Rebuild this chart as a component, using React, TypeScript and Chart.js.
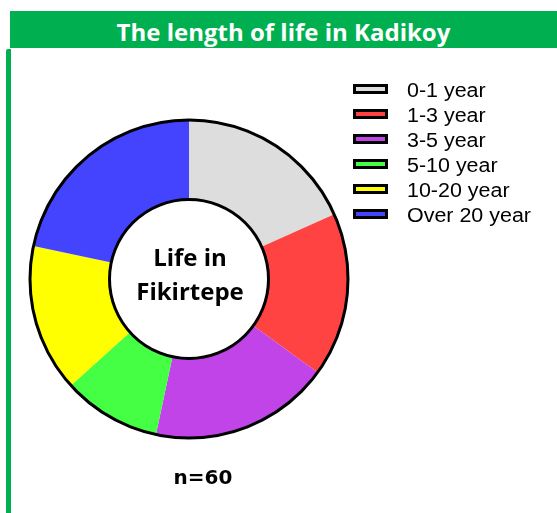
import React, { useEffect, useRef } from "react";
import { Chart, registerables } from "chart.js";

Chart.register(...registerables);

const TITLE = "The length of life in Kadikoy";
const CENTER_LINES = ["Life in", "Fikirtepe"];
const N_LABEL = "n=60";

const categories = ["0-1 year", "1-3 year", "3-5 year", "5-10 year", "10-20 year", "Over 20 year"];
const counts = [11, 10, 11, 6, 9, 13];
const colors = ["#DDDDDD", "#FF4343", "#C044E8", "#44FF44", "#FFFF00", "#4444FF"];

const W = 557;
const H = 513;

const ringPlugin = {
  id: "ringAndText",
  afterDatasetsDraw(chart: any) {
    const ctx = chart.ctx as CanvasRenderingContext2D;
    const meta = chart.getDatasetMeta(0);
    const arc = meta.data[0];
    if (!arc) return;
    const { x, y, innerRadius, outerRadius } = arc.getProps(["x", "y", "innerRadius", "outerRadius"], true);
    ctx.save();
    ctx.strokeStyle = "#000000";
    ctx.lineWidth = 3;
    ctx.beginPath();
    ctx.arc(x, y, outerRadius, 0, Math.PI * 2);
    ctx.stroke();
    ctx.fillStyle = "#FFFFFF";
    ctx.beginPath();
    ctx.arc(x, y, innerRadius, 0, Math.PI * 2);
    ctx.fill();
    ctx.stroke();

    // center text
    ctx.fillStyle = "#000000";
    ctx.textAlign = "center";
    ctx.textBaseline = "alphabetic";
    ctx.font = "bold 24px 'Open Sans'";
    ctx.fillText(CENTER_LINES[0], x + 1, y - 13);
    ctx.fillText(CENTER_LINES[1], x + 1, y + 21);

    // n label
    ctx.font = "bold 20px 'DejaVu Sans'";
    ctx.fillText(N_LABEL, x + 14, y + 205);
    ctx.restore();
  },
  afterDraw(chart: any) {
    const ctx = chart.ctx as CanvasRenderingContext2D;
    const labels: string[] = chart.data.labels;
    const bg: string[] = chart.data.datasets[0].backgroundColor;
    ctx.save();
    labels.forEach((lab, i) => {
      const cy = 89 + 25 * i;
      ctx.fillStyle = bg[i];
      ctx.fillRect(354.5, cy - 3.5, 32, 7);
      ctx.strokeStyle = "#000000";
      ctx.lineWidth = 3;
      ctx.strokeRect(354.5, cy - 3.5, 32, 7);
      ctx.save();
      ctx.translate(407, cy + 7.5);
      ctx.scale(1.1, 1);
      ctx.fillStyle = "#000000";
      ctx.font = "19.5px 'Liberation Sans'";
      ctx.textAlign = "left";
      ctx.textBaseline = "alphabetic";
      ctx.fillText(lab, 0, 0);
      ctx.restore();
    });
    ctx.restore();
  },
};

export default function App() {
  const ref = useRef<HTMLCanvasElement | null>(null);

  useEffect(() => {
    if (!ref.current) return;
    const chart = new Chart(ref.current, {
      type: "doughnut",
      data: {
        labels: categories,
        datasets: [
          {
            data: counts,
            backgroundColor: colors,
            borderWidth: 0,
            hoverBorderWidth: 0,
            hoverOffset: 0,
            offset: 0,
            spacing: 0,
          },
        ],
      },
      options: {
        responsive: false,
        animation: false,
        devicePixelRatio: 1,
        cutout: "50%",
        layout: { padding: { left: 30, top: 120, right: 209, bottom: 75 } },
        plugins: {
          legend: { display: false },
          tooltip: { enabled: false },
          title: { display: false },
        },
        events: [],
      },
      plugins: [ringPlugin],
    });
    return () => chart.destroy();
  }, []);

  return (
    <div style={{ position: "absolute", left: 0, top: 0, width: W, height: H, overflow: "hidden", background: "#FFFFFF" }}>
      <div
        style={{
          position: "absolute",
          left: 10,
          top: 11,
          width: W - 10,
          height: 37,
          background: "#00B050",
          color: "#FFFFFF",
          fontFamily: "'Open Sans', sans-serif",
          fontWeight: 700,
          fontSize: 24,
          lineHeight: "41px",
          textAlign: "center",
          whiteSpace: "nowrap",
        }}
      >
        {TITLE}
      </div>
      <div
        style={{
          position: "absolute",
          left: 6,
          top: 49,
          width: 5,
          height: H - 49,
          background: "#00B050",
          borderTopLeftRadius: 2,
        }}
      />
      <canvas ref={ref} width={W} height={H} style={{ position: "absolute", left: 0, top: 0, width: W, height: H, display: "block" }} />
    </div>
  );
}
